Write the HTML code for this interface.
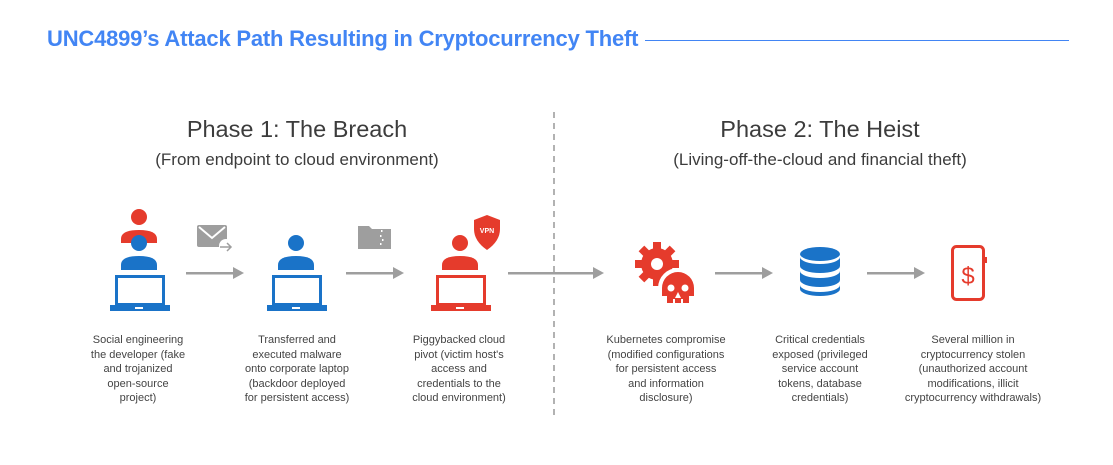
<!DOCTYPE html>
<html><head><meta charset="utf-8"><style>
body{margin:0;width:1113px;height:465px;background:#fff;position:relative;overflow:hidden;font-family:"Liberation Sans",sans-serif}
.t{position:absolute;text-align:center;color:#444;font-size:11px;line-height:14.6px;width:170px;margin-left:-85px}
.h{position:absolute;text-align:center;color:#3c3c3c;width:500px;margin-left:-250px}
</style></head><body>
<div style="position:absolute;left:47px;top:26px;font-size:22px;font-weight:bold;color:#4285f4;letter-spacing:-0.2px">UNC4899’s Attack Path Resulting in Cryptocurrency Theft</div>
<div style="position:absolute;left:645px;top:40px;width:424px;height:1px;background:#4285f4"></div>
<div class="h" style="left:297px;top:116px;font-size:23.5px">Phase 1: The Breach</div>
<div class="h" style="left:297px;top:150px;font-size:17px">(From endpoint to cloud environment)</div>
<div class="h" style="left:820px;top:116px;font-size:23.5px">Phase 2: The Heist</div>
<div class="h" style="left:820px;top:150px;font-size:17px">(Living-off-the-cloud and financial theft)</div>
<svg width="1113" height="465" style="position:absolute;left:0;top:0">
<line x1="554" y1="112" x2="554" y2="420" stroke="#999" stroke-width="1.5" stroke-dasharray="6,5"/>
<g fill="#9e9e9e">
<rect x="186" y="272" width="48" height="2.5"/><polygon points="233,267 244,273 233,279"/>
<rect x="346" y="272" width="48" height="2.5"/><polygon points="393,267 404,273 393,279"/>
<rect x="508" y="272" width="86" height="2.5"/><polygon points="593,267 604,273 593,279"/>
<rect x="715" y="272" width="48" height="2.5"/><polygon points="762,267 773,273 762,279"/>
<rect x="867" y="272" width="48" height="2.5"/><polygon points="914,267 925,273 914,279"/>
</g>
<circle cx="139" cy="217" r="8" fill="#e53b2c"/>
<path d="M121,243 v-4 q0,-9 18,-9 q18,0 18,9 v4z" fill="#e53b2c"/>
<circle cx="139" cy="243" r="8" fill="#1a73c8"/>
<path d="M121,270 v-5 q0,-9 18,-9 q18,0 18,9 v5z" fill="#1a73c8"/>
<g id="lap"><rect x="116.5" y="276.5" width="47" height="28" fill="none" stroke="#1a73c8" stroke-width="3"/><rect x="110" y="305" width="60" height="6" fill="#1a73c8"/><rect x="135" y="307" width="8" height="2" fill="#fff"/></g>
<rect x="197" y="225" width="30" height="22" rx="2" fill="#9e9e9e"/>
<polyline points="199,227 212,238 225,227" fill="none" stroke="#fff" stroke-width="2"/>
<circle cx="226" cy="246" r="7" fill="#fff"/>
<path d="M220,247 h11 M227,243 l4,4 -4,4" stroke="#9e9e9e" stroke-width="1.5" fill="none"/>
<circle cx="296" cy="243" r="8" fill="#1a73c8"/>
<path d="M278,270 v-5 q0,-9 18,-9 q18,0 18,9 v5z" fill="#1a73c8"/>
<use href="#lap" transform="translate(157,0)"/>
<path d="M358,226 h11 l3,3 h19 v20 h-33z" fill="#9e9e9e"/>
<g fill="#fff"><rect x="381" y="230" width="1.5" height="2"/><rect x="380" y="235" width="1.5" height="2"/><rect x="382" y="239" width="1.5" height="2"/><rect x="380" y="243" width="1.5" height="2"/></g>
<circle cx="460" cy="243" r="8" fill="#e53b2c"/>
<path d="M442,270 v-5 q0,-9 18,-9 q18,0 18,9 v5z" fill="#e53b2c"/>
<g transform="translate(321,0)"><rect x="116.5" y="276.5" width="47" height="28" fill="none" stroke="#e53b2c" stroke-width="3"/><rect x="110" y="305" width="60" height="6" fill="#e53b2c"/><rect x="135" y="307" width="8" height="2" fill="#fff"/></g>
<path d="M487,215 l13,5 v9 q0,12 -13,21 q-13,-9 -13,-21 v-9z" fill="#e53b2c"/>
<text x="487" y="233" font-size="7" font-weight="bold" fill="#fff" text-anchor="middle" font-family="Liberation Sans">VPN</text>
<g fill="#e53b2c">
<circle cx="657" cy="264" r="16"/>
<g transform="translate(657,264)"><rect x="-4" y="-22" width="8" height="44"/><rect x="-22" y="-4" width="44" height="8"/><rect x="-4" y="-22" width="8" height="44" transform="rotate(45)"/><rect x="-4" y="-22" width="8" height="44" transform="rotate(-45)"/></g>
<circle cx="657" cy="264" r="6" fill="#fff"/>
<circle cx="678" cy="288" r="20" fill="#fff"/>
<path d="M662,288 a16,16 0 1 1 32,0 v8 h-5 v7 h-22 v-7 h-5z"/>
<circle cx="671" cy="288" r="3.5" fill="#fff"/><circle cx="685" cy="288" r="3.5" fill="#fff"/>
<polygon points="678,292 675,298 681,298" fill="#fff"/>
<rect x="673" y="299" width="2" height="4" fill="#fff"/><rect x="681" y="299" width="2" height="4" fill="#fff"/>
</g>
<g fill="#1a73c8">
<ellipse cx="820" cy="254" rx="20" ry="7"/>
<path d="M800,257 v9 a20,7 0 0 0 40,0 v-9 a20,7 0 0 1 -40,0z"/>
<path d="M800,271 v9 a20,7 0 0 0 40,0 v-9 a20,7 0 0 1 -40,0z"/>
<path d="M800,285 v4 a20,7 0 0 0 40,0 v-4 a20,7 0 0 1 -40,0z"/>
</g>
<rect x="952.5" y="246.5" width="31" height="53" rx="4" fill="none" stroke="#e53b2c" stroke-width="3"/>
<rect x="984" y="257" width="3" height="6" fill="#e53b2c"/>
<text x="968" y="284" font-size="24" fill="#e53b2c" text-anchor="middle" font-family="Liberation Sans">$</text>
</svg>
<div class="t" style="left:138px;top:333px">Social engineering<br>the developer (fake<br>and trojanized<br>open-source<br>project)</div>
<div class="t" style="left:297px;top:333px">Transferred and<br>executed malware<br>onto corporate laptop<br>(backdoor deployed<br>for persistent access)</div>
<div class="t" style="left:459px;top:333px">Piggybacked cloud<br>pivot (victim host's<br>access and<br>credentials to the<br>cloud environment)</div>
<div class="t" style="left:666px;top:333px">Kubernetes compromise<br>(modified configurations<br>for persistent access<br>and information<br>disclosure)</div>
<div class="t" style="left:820px;top:333px">Critical credentials<br>exposed (privileged<br>service account<br>tokens, database<br>credentials)</div>
<div class="t" style="left:973px;top:333px;width:190px;margin-left:-95px">Several million in<br>cryptocurrency stolen<br>(unauthorized account<br>modifications, illicit<br>cryptocurrency withdrawals)</div>
</body></html>
